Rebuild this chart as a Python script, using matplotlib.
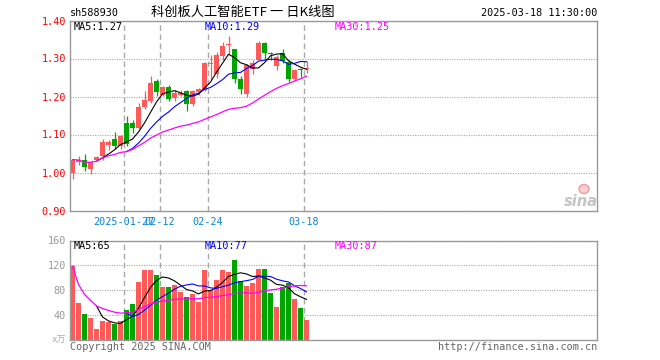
import matplotlib
matplotlib.use("Agg")
import matplotlib.pyplot as plt
import numpy as np
import pandas as pd
from matplotlib.patches import Ellipse

code = "sh588930"
title = "科创板人工智能ETF 一 日K线图"
timestamp = "2025-03-18 11:30:00"

# daily candles
opens = [0.999, 1.028, 1.034, 1.008, 1.034, 1.043, 1.072, 1.089, 1.071, 1.129,
         1.131, 1.118, 1.173, 1.188, 1.240, 1.205, 1.226, 1.197, 1.203, 1.214,
         1.179, 1.211, 1.218, 1.285, 1.258, 1.306, 1.335, 1.326, 1.246, 1.206,
         1.273, 1.297, 1.342, 1.315, 1.281, 1.314, 1.292, 1.247, 1.273, 1.273]
highs = [1.036, 1.043, 1.049, 1.030, 1.043, 1.087, 1.085, 1.106, 1.100, 1.150,
         1.139, 1.182, 1.214, 1.253, 1.245, 1.227, 1.229, 1.218, 1.218, 1.218,
         1.218, 1.223, 1.290, 1.308, 1.318, 1.343, 1.360, 1.326, 1.254, 1.286,
         1.297, 1.345, 1.343, 1.318, 1.310, 1.324, 1.297, 1.272, 1.274, 1.293]
lows = [0.982, 1.021, 1.003, 0.997, 1.032, 1.034, 1.060, 1.061, 1.061, 1.071,
        1.104, 1.115, 1.166, 1.183, 1.201, 1.201, 1.188, 1.188, 1.201, 1.161,
        1.174, 1.205, 1.214, 1.245, 1.250, 1.295, 1.313, 1.236, 1.207, 1.200,
        1.260, 1.295, 1.296, 1.297, 1.271, 1.289, 1.237, 1.240, 1.252, 1.262]
closes = [1.034, 1.032, 1.015, 1.027, 1.040, 1.080, 1.080, 1.071, 1.097, 1.074,
          1.118, 1.173, 1.190, 1.236, 1.211, 1.226, 1.194, 1.210, 1.208, 1.179,
          1.214, 1.220, 1.289, 1.288, 1.308, 1.332, 1.339, 1.245, 1.220, 1.282,
          1.289, 1.340, 1.314, 1.311, 1.304, 1.294, 1.247, 1.271, 1.270, 1.276]
volumes = [118.9, 59.7, 41.6, 35.7, 17.6, 30.4, 28.3, 26.1, 30.4, 48.0,
           57.6, 93.3, 112.0, 112.0, 104.0, 85.3, 85.3, 89.0, 77.3, 69.3,
           73.6, 61.3, 112.0, 81.0, 96.0, 112.0, 110.0, 128.0, 94.4, 86.4,
           91.7, 113.6, 113.6, 75.7, 52.8, 85.3, 92.2, 65.6, 51.7, 32.0]

date_idx = [9, 15, 23, 39]
date_labels = ["2025-01-27", "02-12", "02-24", "03-18"]
price_ticks = [0.90, 1.00, 1.10, 1.20, 1.30, 1.40]
vol_ticks = [40, 80, 120, 160]

RED = "#ff5a5a"
GREEN = "#00a600"
GRID = "#a8a8a8"
FRAME = "#999999"
W, H = 660, 360

plt.rcParams["font.family"] = ["DejaVu Sans Mono", "Noto Sans CJK SC"]


def px(x, y):
    return x / W, 1 - y / H


o = np.array(opens)
c = np.array(closes)
idx = np.arange(len(c))
up = c >= o
colors = np.where(up, RED, GREEN)

cs = pd.Series(closes)
ma5 = cs.rolling(5).mean()
ma10 = cs.rolling(10).mean()
ma30 = cs.rolling(30, min_periods=1).mean()
vs = pd.Series(volumes)
vma5 = vs.rolling(5).mean()
vma10 = vs.rolling(10).mean()
vma30 = vs.rolling(30, min_periods=1).mean()

fig = plt.figure(figsize=(6.6, 3.6), dpi=100, facecolor="white")
ax = fig.add_axes([70 / W, 1 - 210.5 / H, 527 / W, 190 / H])
axv = fig.add_axes([70 / W, 1 - 340 / H, 527 / W, 99.5 / H])

xlim = (-5 / 12, -5 / 12 + 527 / 6)

# candles
ax.vlines(idx, lows, highs, colors=colors, lw=0.9, zorder=2)
ax.bar(idx, np.maximum(np.abs(c - o), 0.0026), bottom=np.minimum(o, c),
       width=5 / 6, color=colors, linewidth=0, zorder=2)
ax.plot(idx, ma5, color="black", lw=0.8, zorder=3)
ax.plot(idx, ma10, color="#0000ff", lw=0.8, zorder=3)
ax.plot(idx, ma30, color="#ff00ff", lw=0.9, zorder=3)

# volume
axv.bar(idx, volumes, width=5 / 6, color=colors, linewidth=0, zorder=2)
axv.plot(idx, vma5, color="black", lw=0.8, zorder=3)
axv.plot(idx, vma10, color="#0000ff", lw=0.8, zorder=3)
axv.plot(idx, vma30, color="#ff00ff", lw=0.9, zorder=3)

for a in (ax, axv):
    a.set_xlim(*xlim)
    for d in date_idx:
        a.axvline(d - 5 / 12 + 0.05, color="#aaaaaa", lw=1.0,
                  linestyle=(0, (4, 2.5)), zorder=1)
    a.yaxis.grid(True, linestyle=(0, (1, 1.2)), color=GRID, lw=0.8, zorder=1)
    for s in a.spines.values():
        s.set_color(FRAME)
        s.set_linewidth(1.0)

ax.set_ylim(0.90, 1.40)
ax.set_yticks(price_ticks)
ax.set_yticklabels([f"{t:.2f}" for t in price_ticks])
ax.tick_params(axis="y", length=0, pad=3, labelcolor="red", labelsize=7.3)
ax.set_xticks([d - 5 / 12 for d in date_idx])
ax.set_xticklabels(date_labels)
ax.tick_params(axis="x", length=0, pad=4.5, labelcolor="#0a84d6", labelsize=7.3)

axv.set_ylim(0, 160)
axv.set_yticks(vol_ticks)
axv.set_yticklabels([str(t) for t in vol_ticks])
axv.tick_params(axis="y", length=0, pad=3, labelcolor="#999999", labelsize=7.3)
axv.set_xticks([])

# header texts
fig.text(*px(70, 12.5), code, ha="left", va="center", fontsize=7.3)
fig.text(*px(151, 12.5), title, ha="left", va="center", fontsize=9.5,
         family=["Noto Sans CJK SC", "DejaVu Sans"])
fig.text(*px(597, 12.5), timestamp, ha="right", va="center", fontsize=7.3)

fig.text(*px(74, 26.5), f"MA5:{ma5.iloc[-1]:.2f}", color="black", va="center", fontsize=7.3)
fig.text(*px(204.5, 26.5), f"MA10:{ma10.iloc[-1]:.2f}", color="#0000ff", va="center", fontsize=7.3)
fig.text(*px(334.5, 26.5), f"MA30:{ma30.iloc[-1]:.2f}", color="#ff00ff", va="center", fontsize=7.3)

fig.text(*px(74, 246), f"MA5:{vma5.iloc[-1]:.0f}", color="black", va="center", fontsize=7.3)
fig.text(*px(204.5, 246), f"MA10:{vma10.iloc[-1]:.0f}", color="#0000ff", va="center", fontsize=7.3)
fig.text(*px(334.5, 246), f"MA30:{vma30.iloc[-1]:.0f}", color="#ff00ff", va="center", fontsize=7.3)

fig.text(*px(66, 340), "x万", ha="right", va="center", fontsize=6.5, color="#aaaaaa")
fig.text(*px(70, 346.5), "Copyright 2025 SINA.COM", ha="left", va="center",
         fontsize=7.3, color="#666666")
fig.text(*px(597, 346.5), "http://finance.sina.com.cn", ha="right", va="center",
         fontsize=7.3, color="#666666")

# sina watermark
fig.text(*px(581, 201), "sina", ha="center", va="center", fontsize=10.5,
         style="italic", weight="bold", color="#c4c4c4", family="DejaVu Sans")
fig.add_artist(Ellipse(px(584, 189), 10 / W, 9 / H, transform=fig.transFigure,
                       facecolor="#fbd0d0", edgecolor="#f49a9a", lw=1.0))

fig.savefig("out.png", dpi=100, facecolor="white")
